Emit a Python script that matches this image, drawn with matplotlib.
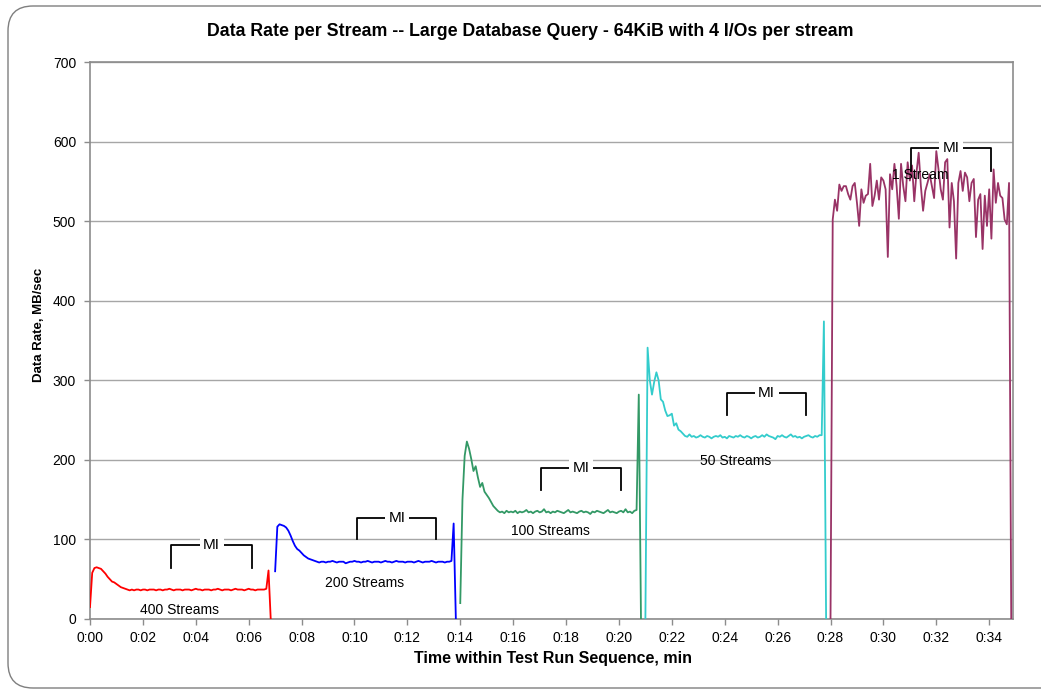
import numpy as np
import matplotlib
matplotlib.use("Agg")
import matplotlib.pyplot as plt
from matplotlib.patches import FancyBboxPatch
from matplotlib.ticker import FixedLocator, FuncFormatter

plt.rcParams['font.family'] = ['Liberation Sans', 'DejaVu Sans']

# ---------------- data ----------------
sample_step_min = 1.0 / 12.0  # 5-second samples

start_400 = 0.0
rate_400 = [15, 58, 64, 65, 64, 63, 60, 57, 53, 50, 47, 46, 44, 42, 40, 39, 38, 37,
            36, 37, 36, 37, 37, 36, 37, 37, 36, 37,
            37, 37, 36, 37, 37, 36, 37, 37, 38, 37,
            36, 37, 37, 37, 36, 37, 37, 37, 36, 37,
            38, 37, 37, 36, 37, 37, 37, 36, 37, 37,
            38, 37, 36, 37, 37, 37, 36, 37, 38, 37,
            37, 37, 36, 37, 38, 37, 37, 36, 37, 37,
            37, 37,
            38, 61, 0]

start_200 = 7.0
rate_200 = [60, 116, 119, 118, 117, 115, 111, 105, 98, 92, 88, 86, 83, 80, 78, 76, 75, 74, 73,
            72, 71, 72, 72, 71, 72, 72, 73, 72, 71,
            72, 72, 72, 70, 71, 72, 72, 73, 72, 72,
            71, 72, 72, 73, 72, 71, 72, 72, 72, 71,
            72, 73, 72, 72, 71, 72, 73, 72, 72, 72,
            71, 72, 72, 72, 71, 72, 73, 72, 71, 72,
            72, 72, 73, 72, 71, 72, 72, 72, 71, 72,
            72,
            73, 120, 0]

start_100 = 14.0
rate_100 = [20, 150, 205, 223, 214, 201, 186, 192, 178, 166, 171, 160, 156, 152, 147, 142, 139, 136, 134,
            135, 133, 136, 134, 135, 134, 136, 133, 135, 134,
            135, 137, 134, 135, 133, 135, 136, 134, 135, 138,
            134, 135, 133, 135, 134, 136, 135, 134, 133, 135,
            137, 134, 135, 134, 133, 135, 136, 134, 135, 134,
            132, 135, 134, 136, 135, 134, 133, 135, 137, 134,
            135, 134, 133, 135, 136, 134, 138, 134, 135, 133,
            136,
            137, 282, 0]

start_50 = 21.0
rate_50 = [0, 341, 300, 282, 298, 310, 300, 276, 273, 262, 255, 256, 258, 243, 246, 238, 236, 233, 230, 229, 232,
           229, 230, 228, 229, 231, 229, 228, 230, 229, 227,
           229, 230, 229, 231, 228, 229, 227, 230, 229, 228,
           230, 229, 231, 229, 228, 230, 229, 227, 229, 230,
           228, 229, 231, 229, 232, 230, 229, 228, 226, 230,
           229, 231, 229, 228, 230, 232, 229, 230, 228, 229,
           227, 229, 230, 231, 229, 228, 230, 229, 231,
           231, 374, 0]

start_1 = 28.0
rate_1 = [0, 502, 527, 513, 546, 538, 544, 544, 534, 527, 544, 548, 523, 494, 540, 523, 532, 534,
          572, 519, 532, 551, 527, 555, 551, 540, 455, 559, 540, 572, 544, 503, 572, 544, 525,
          574, 551, 570, 525, 561, 586, 544, 513, 538, 548, 559, 544, 529, 588, 565, 540, 527,
          574, 578, 492, 548, 525, 453, 548, 563, 538, 561, 555, 525, 548, 553, 480, 527, 534,
          465, 532, 494, 540, 478, 565, 523, 548, 532, 529, 502, 496, 548, 0]

series_labels = ["400 Streams", "200 Streams", "100 Streams", "50 Streams", "1 Stream"]
series_colors = ["#FF0000", "#0000FF", "#339966", "#33CCCC", "#993366"]
series_starts = [start_400, start_200, start_100, start_50, start_1]
series_rates = [rate_400, rate_200, rate_100, rate_50, rate_1]

# stream-count label anchors (minutes, MB/s)
label_x = [3.4, 10.4, 17.4, 24.4, 31.4]
label_y = [11, 45, 110, 199, 558]

# measurement-interval (MI) brackets: start, end (minutes), top, bottom (MB/s)
mi_start = [3.06, 10.1, 17.06, 24.09, 31.05]
mi_end = [6.13, 13.1, 20.08, 27.08, 34.08]
mi_top = [93, 127, 190, 284, 592]
mi_bottom = [64, 100, 162, 257, 563]

x_ticks = list(range(0, 35, 2))
y_ticks = list(range(0, 701, 100))

# ---------------- figure ----------------
W, H = 1041, 690
fig = plt.figure(figsize=(W / 100, H / 100), dpi=100)

# chart-area frame (rounded), right side runs off the image
frame = FancyBboxPatch((8 / W, 2 / H), (1080 - 8) / W, (684 - 2) / H,
                       boxstyle="round,pad=0,rounding_size=0.024",
                       transform=fig.transFigure, facecolor="none",
                       edgecolor="#7f7f7f", linewidth=1.0, zorder=-1,
                       mutation_aspect=W / H)
fig.patches.append(frame)

ax = fig.add_axes([90 / W, 1 - 619 / H, (1013 - 90) / W, (619 - 62) / H])
ax.set_facecolor("white")

for start, rates, color in zip(series_starts, series_rates, series_colors):
    t = start + np.arange(len(rates)) * sample_step_min
    ax.plot(t, rates, color=color, linewidth=1.3, zorder=3)

for lx, ly, lab in zip(label_x, label_y, series_labels):
    ax.text(lx, ly, lab, fontsize=10, ha="center", va="center", color="black", zorder=5)

for s, e, top, bot in zip(mi_start, mi_end, mi_top, mi_bottom):
    ax.plot([s, s, e, e], [bot, top, top, bot], color="black", linewidth=1.3, zorder=4)
    ax.text((s + e) / 2, top, "MI", fontsize=11, ha="center", va="center", zorder=6,
            bbox=dict(facecolor="white", edgecolor="none", pad=2.5))

ax.set_xlim(0, 34.9)
ax.set_ylim(0, 700)
ax.xaxis.set_major_locator(FixedLocator(x_ticks))
ax.yaxis.set_major_locator(FixedLocator(y_ticks))
ax.xaxis.set_major_formatter(FuncFormatter(lambda v, p: f"{int(v) // 60}:{int(v) % 60:02d}"))
ax.grid(axis="y", color="#a6a6a6", linewidth=1.0, zorder=1)
ax.set_axisbelow(True)
for sp in ax.spines.values():
    sp.set_color("#8c8c8c")
    sp.set_linewidth(1.2)
ax.tick_params(axis="both", direction="out", length=4, width=1.0, color="#8c8c8c",
               labelsize=10, labelcolor="black")
ax.tick_params(axis="y", pad=6)
ax.tick_params(axis="x", pad=5)

ax.set_xlabel("Time within Test Run Sequence, min", fontsize=11.5, fontweight="bold", va="center")
ax.xaxis.set_label_coords((553 - 90) / 923, -(659 - 619) / 557)
ax.set_ylabel("Data Rate, MB/sec", fontsize=9.5, fontweight="bold", va="center")
ax.yaxis.set_label_coords((39 - 90) / 923, (619 - 325) / 557)
fig.text(530 / W, 1 - 31 / H, "Data Rate per Stream -- Large Database Query - 64KiB with 4 I/Os per stream",
         fontsize=12.8, fontweight="bold", ha="center", va="center")

fig.savefig("out.png", dpi=100, facecolor="white")
